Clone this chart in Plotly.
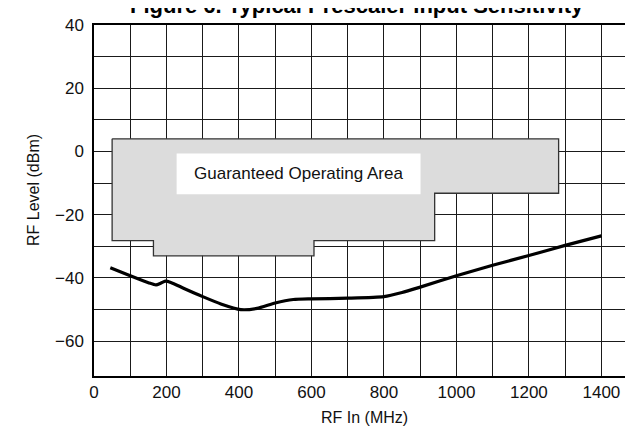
import plotly.graph_objects as go

# Curve: typical prescaler input sensitivity
freq_mhz = [45, 100, 150, 171, 185, 197, 212, 250, 300, 350, 405, 450, 500, 550, 600,
            700, 800, 850, 900, 1000, 1100, 1200, 1300, 1400]
level_dbm = [-36.8, -39.3, -41.5, -42.2, -41.6, -41.0, -41.4, -43.4, -45.9, -48.2, -50.0,
             -49.6, -47.9, -46.8, -46.6, -46.4, -45.9, -44.6, -42.9, -39.3, -36.0, -32.9,
             -29.7, -26.7]

# Guaranteed operating area outline
area_x = [50, 1282, 1282, 940, 940, 607, 607, 164, 164, 50, 50]
area_y = [4, 4, -13.2, -13.2, -28.2, -28.2, -33, -33, -28.2, -28.2, 4]

x_ticks = [0, 200, 400, 600, 800, 1000, 1200, 1400]
y_ticks = [40, 20, 0, -20, -40, -60]
x_grid = [100, 300, 500, 700, 900, 1100, 1300]
y_grid = [30, 10, -10, -30, -50]

title = "Figure 6. Typical Prescaler Input Sensitivity"
area_label = "Guaranteed Operating Area"
x_title = "RF In (MHz)"
y_title = "RF Level (dBm)"

FONT = "Liberation Sans, Arial, sans-serif"

fig = go.Figure()
fig.add_trace(go.Scatter(x=area_x, y=area_y, mode="lines", fill="toself",
                         fillcolor="#dcdcdc", line=dict(color="#333333", width=1.3),
                         hoverinfo="skip", showlegend=False))
fig.add_trace(go.Scatter(x=freq_mhz, y=level_dbm, mode="lines",
                         line=dict(color="black", width=3.2, shape="spline", smoothing=0.6),
                         showlegend=False))

grid = dict(showgrid=True, gridcolor="#1a1a1a", gridwidth=1)
fig.update_xaxes(range=[0, 1490], tickvals=x_ticks, ticks="", ticklabelstandoff=0,
                 zeroline=False, showline=True, linecolor="black", linewidth=1.5, mirror=True,
                 minor=dict(tickvals=x_grid, showgrid=True, gridcolor="#1a1a1a", gridwidth=1),
                 tickfont=dict(size=17, color="#111"), **grid)
fig.update_yaxes(range=[-71, 40], tickvals=y_ticks, ticks="", ticklabelstandoff=5,
                 zeroline=False, showline=True, linecolor="black", linewidth=1.5, mirror=True,
                 minor=dict(tickvals=y_grid, showgrid=True, gridcolor="#1a1a1a", gridwidth=1),
                 tickfont=dict(size=17, color="#111"), **grid)

# white label box inside the shaded area
fig.add_shape(type="rect", x0=228, x1=901, y0=-0.6, y1=-13.5, xref="x", yref="y",
              fillcolor="white", line=dict(width=0), layer="above")

fig.add_annotation(text="<b>" + title + "</b>", xref="paper", yref="paper", x=0.487, y=1,
                   xanchor="center", yanchor="bottom", yshift=5, showarrow=False,
                   font=dict(size=22, color="black"))
fig.add_annotation(text=x_title, xref="paper", yref="paper", x=0.5, y=0,
                   xanchor="center", yanchor="middle", yshift=-41, showarrow=False,
                   font=dict(size=16, color="#111"))
fig.add_annotation(text=y_title, xref="paper", yref="paper", x=0, y=0.53,
                   xanchor="center", yanchor="middle", xshift=-60, textangle=-90,
                   showarrow=False, font=dict(size=16, color="#111"))
fig.add_annotation(text=area_label, x=565, y=-7.05, showarrow=False,
                   font=dict(size=17, color="#111"))

fig.update_layout(width=633, height=431, margin=dict(l=86, r=5, t=17, b=63),
                  paper_bgcolor="white", plot_bgcolor="white",
                  font=dict(family=FONT))
fig.write_html("out.html")
